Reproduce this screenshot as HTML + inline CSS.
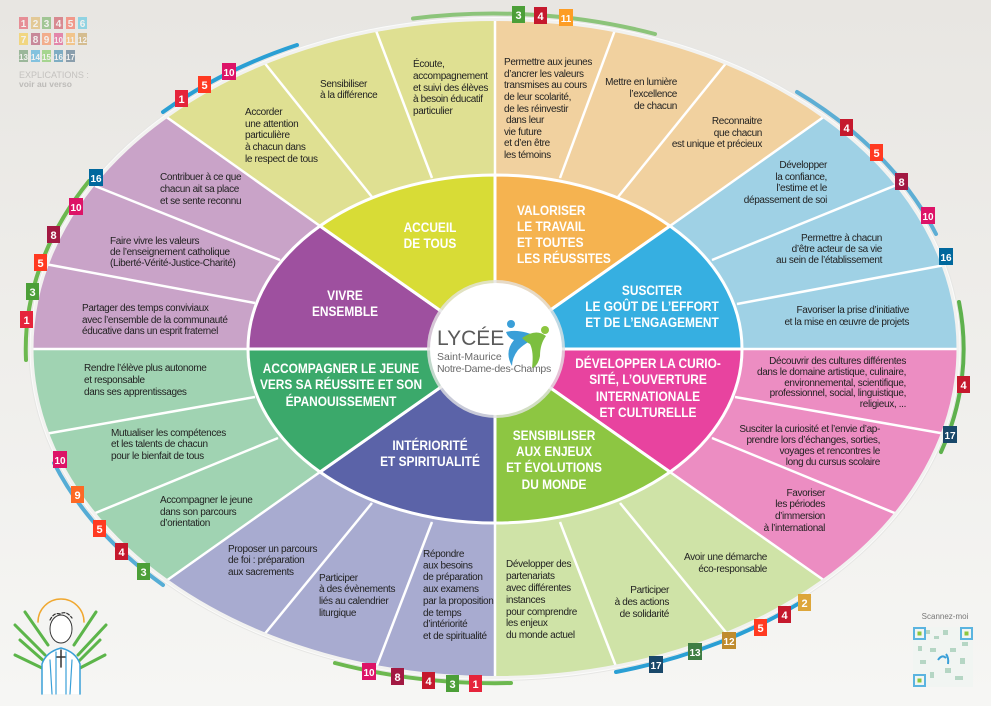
<!DOCTYPE html>
<html><head><meta charset="utf-8">
<style>
html,body{margin:0;padding:0;width:991px;height:706px;overflow:hidden;position:relative}
svg{display:block;position:absolute;left:0;top:0;overflow:hidden}
.t{font-family:"Liberation Sans",sans-serif;font-size:10px;fill:#222;letter-spacing:-0.35px}
.h{font-family:"Liberation Sans",sans-serif;font-size:14px;font-weight:bold;fill:#fff;text-anchor:middle}
.b{font-family:"Liberation Sans",sans-serif;font-size:11px;font-weight:bold;fill:#fff;text-anchor:middle}
</style></head><body>
<svg width="991" height="706" viewBox="0 0 991 706" xmlns="http://www.w3.org/2000/svg">
<defs>
<linearGradient id="bg" x1="0" y1="0" x2="0" y2="1"><stop offset="0" stop-color="#e8e6e2"/><stop offset="1" stop-color="#f6f6f4"/></linearGradient>
<clipPath id="oc"><ellipse cx="495" cy="348.5" rx="463" ry="329"/></clipPath>
<clipPath id="pg"><rect width="991" height="706"/></clipPath>
</defs>
<g clip-path="url(#pg)">
<rect width="991" height="706" fill="url(#bg)"/>

<g opacity="0.45" font-family="Liberation Sans" font-size="10" font-weight="bold" fill="#fff" text-anchor="middle">
<rect x="19" y="17" width="9" height="12" fill="#e5243b"/><rect x="31" y="17" width="9" height="12" fill="#dda63a"/><rect x="42" y="17" width="9" height="12" fill="#4c9f38"/><rect x="54" y="17" width="9" height="12" fill="#c5192d"/><rect x="66" y="17" width="9" height="12" fill="#ff3a21"/><rect x="78" y="17" width="9" height="12" fill="#26bde2"/>
<rect x="19" y="33" width="9" height="12" fill="#fcc30b"/><rect x="31" y="33" width="9" height="12" fill="#a21942"/><rect x="42" y="33" width="9" height="12" fill="#fd6925"/><rect x="54" y="33" width="9" height="12" fill="#dd1367"/><rect x="66" y="33" width="9" height="12" fill="#fd9d24"/><rect x="78" y="33" width="9" height="12" fill="#bf8b2e"/>
<rect x="19" y="50" width="9" height="12" fill="#3f7e44"/><rect x="31" y="50" width="9" height="12" fill="#0a97d9"/><rect x="42" y="50" width="9" height="12" fill="#56c02b"/><rect x="54" y="50" width="9" height="12" fill="#00689d"/><rect x="66" y="50" width="9" height="12" fill="#19486a"/>
<text x="23.5" y="27">1</text><text x="35.5" y="27">2</text><text x="46.5" y="27">3</text><text x="58.5" y="27">4</text><text x="70.5" y="27">5</text><text x="82.5" y="27">6</text>
<text x="23.5" y="43">7</text><text x="35.5" y="43">8</text><text x="46.5" y="43">9</text><text x="58.5" y="43" font-size="8">10</text><text x="70.5" y="43" font-size="8">11</text><text x="82.5" y="43" font-size="8">12</text>
<text x="23.5" y="60" font-size="8">13</text><text x="35.5" y="60" font-size="8">14</text><text x="46.5" y="60" font-size="8">15</text><text x="58.5" y="60" font-size="8">16</text><text x="70.5" y="60" font-size="8">17</text>
</g>
<text x="19" y="78" font-family="Liberation Sans" font-size="9" fill="#c4c2bf">EXPLICATIONS :</text>
<text x="19" y="87" font-family="Liberation Sans" font-size="8.5" font-weight="bold" fill="#bdbbb8">voir au verso</text>

<ellipse cx="495" cy="348.5" rx="466" ry="332" fill="#fbfbfa" stroke="#e6e6e4" stroke-width="1"/>

<g clip-path="url(#oc)" stroke="none">
<polygon fill="#f1d19f" points="495,349 495,175 495,-293 726,-275 560,178"/>
<polygon fill="#f1d19f" points="495,349 560,178 726,-275 939,-205 618,197"/>
<polygon fill="#f1d19f" points="495,349 618,197 939,-205 1129,-101 670,226"/>
<polygon fill="#9fd1e5" points="495,349 670,226 1129,-101 1267,35 712,260"/>
<polygon fill="#9fd1e5" points="495,349 712,260 1267,35 1346,190 737,304"/>
<polygon fill="#9fd1e5" points="495,349 737,304 1346,190 1390,349 742,349"/>
<polygon fill="#ec8dc2" points="495,349 742,349 1390,349 1356,505 735,397"/>
<polygon fill="#ec8dc2" points="495,349 735,397 1356,505 1261,663 712,438"/>
<polygon fill="#ec8dc2" points="495,349 712,438 1261,663 1129,796 670,472"/>
<polygon fill="#cfe3a7" points="495,349 670,472 1129,796 941,893 620,503"/>
<polygon fill="#cfe3a7" points="495,349 620,503 941,893 725,951 560,522"/>
<polygon fill="#cfe3a7" points="495,349 560,522 725,951 495,988 495,523"/>
<polygon fill="#a8abd0" points="495,349 495,523 495,988 267,951 432,522"/>
<polygon fill="#a8abd0" points="495,349 432,522 267,951 51,893 372,503"/>
<polygon fill="#a8abd0" points="495,349 372,503 51,893 -136,796 320,472"/>
<polygon fill="#a0d3b2" points="495,349 320,472 -136,796 -271,663 278,438"/>
<polygon fill="#a0d3b2" points="495,349 278,438 -271,663 -366,505 255,397"/>
<polygon fill="#a0d3b2" points="495,349 255,397 -366,505 -400,349 248,349"/>
<polygon fill="#c9a3c8" points="495,349 248,349 -400,349 -366,189 255,303"/>
<polygon fill="#c9a3c8" points="495,349 255,303 -366,189 -269,41 280,260"/>
<polygon fill="#c9a3c8" points="495,349 280,260 -269,41 -139,-101 320,226"/>
<polygon fill="#dfe092" points="495,349 320,226 -139,-101 51,-205 372,197"/>
<polygon fill="#dfe092" points="495,349 372,197 51,-205 264,-275 432,178"/>
<polygon fill="#dfe092" points="495,349 432,178 264,-275 495,-293 495,175"/>
</g>
<g stroke="#fff" stroke-width="2.5" clip-path="url(#oc)">
<line x1="495" y1="175" x2="495" y2="15"/><line x1="560" y1="178" x2="615" y2="30"/><line x1="618" y1="197" x2="727" y2="62"/><line x1="670" y1="226" x2="825" y2="116"/>
<line x1="712" y1="260" x2="899" y2="184"/><line x1="737" y1="304" x2="945" y2="265"/><line x1="742" y1="349" x2="962" y2="349"/><line x1="735" y1="397" x2="946" y2="434"/>
<line x1="712" y1="438" x2="897" y2="514"/><line x1="670" y1="472" x2="825" y2="581"/><line x1="620" y1="503" x2="729" y2="636"/><line x1="560" y1="522" x2="617" y2="669"/>
<line x1="495" y1="523" x2="495" y2="682"/><line x1="432" y1="522" x2="376" y2="668"/><line x1="372" y1="503" x2="263" y2="636"/><line x1="320" y1="472" x2="166" y2="581"/>
<line x1="278" y1="438" x2="93" y2="514"/><line x1="255" y1="397" x2="45" y2="434"/><line x1="248" y1="349" x2="28" y2="349"/><line x1="255" y1="303" x2="45" y2="264"/>
<line x1="280" y1="260" x2="95" y2="186"/><line x1="320" y1="226" x2="165" y2="116"/><line x1="372" y1="197" x2="263" y2="61"/><line x1="432" y1="178" x2="375" y2="28"/>
</g>
<ellipse cx="495" cy="348.5" rx="463" ry="329" fill="none" stroke="#f2f2f0" stroke-width="3"/>

<g fill="none" stroke-width="4" stroke-linecap="round">
<path d="M163,112 A469,335 0 0 1 297,45" stroke="#2a9fd4"/>
<path d="M413,18.5 A469,335 0 0 1 655,34" stroke="#8cc47a"/>
<path d="M797,92 A469,335 0 0 1 936,234" stroke="#3a9fd0" opacity="0.8"/>
<path d="M959,302 A469,335 0 0 1 941,452" stroke="#5eb14d"/>
<path d="M809,597 A469,335 0 0 1 616,672" stroke="#2a9fd4"/>
<path d="M511,683 A469,335 0 0 1 335,663" stroke="#6cb84f"/>
<path d="M163,585 A469,335 0 0 1 54,463" stroke="#3aa0d0" opacity="0.85"/>
<path d="M26,360 A469,335 0 0 1 89,181" stroke="#6cb84f"/>
</g>

<g stroke="#fff" stroke-width="3" stroke-linejoin="round">
<path d="M495,349 L495,175 A247,174 0 0 1 670,226 Z" fill="#f5b350"/>
<path d="M495,349 L670,226 A247,174 0 0 1 742,349 Z" fill="#36afe1"/>
<path d="M495,349 L742,349 A247,174 0 0 1 670,472 Z" fill="#e8439f"/>
<path d="M495,349 L670,472 A247,174 0 0 1 495,523 Z" fill="#8dc642"/>
<path d="M495,349 L495,523 A247,174 0 0 1 320,472 Z" fill="#5b63a8"/>
<path d="M495,349 L320,472 A247,174 0 0 1 248,349 Z" fill="#3ba96b"/>
<path d="M495,349 L248,349 A247,174 0 0 1 320,226 Z" fill="#9e509f"/>
<path d="M495,349 L320,226 A247,174 0 0 1 495,175 Z" fill="#d8dc36"/>
</g>

<circle cx="496" cy="349" r="69" fill="#e4e4e4" opacity="0.8"/>
<circle cx="496" cy="349" r="66" fill="#fff"/>
<text x="437" y="345" font-family="Liberation Sans" font-size="21" fill="#5a5a5a">LYCÉE</text>
<text x="437" y="360" font-family="Liberation Sans" font-size="10.5" fill="#6a6a6a">Saint-Maurice</text>
<text x="437" y="372" font-family="Liberation Sans" font-size="10.5" fill="#6a6a6a" letter-spacing="-0.3">Notre-Dame-des-Champs</text>
<circle cx="511" cy="324" r="4" fill="#3a9fd8"/><circle cx="545" cy="330" r="4" fill="#8cc63f"/>
<path d="M506,332 Q520,328 540,338 Q528,340 518,350 Q512,358 512,366 Q504,352 514,340 Q508,338 506,332Z" fill="#3a9fd8"/>
<path d="M522,338 Q536,328 546,336 Q540,344 540,356 Q538,366 532,368 Q534,352 530,344 Q526,342 522,338Z" fill="#7cbf3f"/>

<g class="h">
<text transform="translate(430,232) scale(0.85,1)">ACCUEIL</text>
<text transform="translate(430,248) scale(0.85,1)">DE TOUS</text>
<text transform="translate(517,215) scale(0.85,1)" text-anchor="start">VALORISER</text>
<text transform="translate(517,231) scale(0.85,1)" text-anchor="start">LE TRAVAIL</text>
<text transform="translate(517,247) scale(0.85,1)" text-anchor="start">ET TOUTES</text>
<text transform="translate(517,263) scale(0.85,1)" text-anchor="start">LES RÉUSSITES</text>
<text transform="translate(652,295) scale(0.85,1)">SUSCITER</text>
<text transform="translate(652,311) scale(0.85,1)">LE GOÛT DE L’EFFORT</text>
<text transform="translate(652,327) scale(0.85,1)">ET DE L’ENGAGEMENT</text>
<text transform="translate(648,368) scale(0.85,1)">DÉVELOPPER LA CURIO-</text>
<text transform="translate(648,384) scale(0.85,1)">SITÉ, L’OUVERTURE</text>
<text transform="translate(648,401) scale(0.85,1)">INTERNATIONALE</text>
<text transform="translate(648,417) scale(0.85,1)">ET CULTURELLE</text>
<text transform="translate(554,440) scale(0.85,1)">SENSIBILISER</text>
<text transform="translate(554,456) scale(0.85,1)">AUX ENJEUX</text>
<text transform="translate(554,472) scale(0.85,1)">ET ÉVOLUTIONS</text>
<text transform="translate(554,489) scale(0.85,1)">DU MONDE</text>
<text transform="translate(430,450) scale(0.85,1)">INTÉRIORITÉ</text>
<text transform="translate(430,466) scale(0.85,1)">ET SPIRITUALITÉ</text>
<text transform="translate(341,373) scale(0.85,1)">ACCOMPAGNER LE JEUNE</text>
<text transform="translate(341,389) scale(0.85,1)">VERS SA RÉUSSITE ET SON</text>
<text transform="translate(341,406) scale(0.85,1)">ÉPANOUISSEMENT</text>
<text transform="translate(345,300) scale(0.85,1)">VIVRE</text>
<text transform="translate(345,316) scale(0.85,1)">ENSEMBLE</text>
</g>

<g class="t">
<text><tspan x="413" y="67">Écoute,</tspan><tspan x="413" y="79">accompagnement</tspan><tspan x="413" y="91">et suivi des élèves</tspan><tspan x="413" y="102">à besoin éducatif</tspan><tspan x="413" y="114">particulier</tspan></text>
<text><tspan x="320" y="87">Sensibiliser</tspan><tspan x="320" y="98">à la différence</tspan></text>
<text><tspan x="245" y="115">Accorder</tspan><tspan x="245" y="127">une attention</tspan><tspan x="245" y="138">particulière</tspan><tspan x="245" y="150">à chacun dans</tspan><tspan x="245" y="162">le respect de tous</tspan></text>
<text><tspan x="160" y="180">Contribuer à ce que</tspan><tspan x="160" y="192">chacun ait sa place</tspan><tspan x="160" y="204">et se sente reconnu</tspan></text>
<text><tspan x="110" y="244">Faire vivre les valeurs</tspan><tspan x="110" y="255">de l’enseignement catholique</tspan><tspan x="110" y="266">(Liberté-Vérité-Justice-Charité)</tspan></text>
<text><tspan x="82" y="311">Partager des temps conviviaux</tspan><tspan x="82" y="323">avec l’ensemble de la communauté</tspan><tspan x="82" y="334">éducative dans un esprit fraternel</tspan></text>
<text><tspan x="84" y="371">Rendre l’élève plus autonome</tspan><tspan x="84" y="383">et responsable</tspan><tspan x="84" y="395">dans ses apprentissages</tspan></text>
<text><tspan x="111" y="436">Mutualiser les compétences</tspan><tspan x="111" y="447">et les talents de chacun</tspan><tspan x="111" y="459">pour le bienfait de tous</tspan></text>
<text><tspan x="160" y="503">Accompagner le jeune</tspan><tspan x="160" y="515">dans son parcours</tspan><tspan x="160" y="526">d’orientation</tspan></text>
<text><tspan x="228" y="552">Proposer un parcours</tspan><tspan x="228" y="563">de foi : préparation</tspan><tspan x="228" y="575">aux sacrements</tspan></text>
<text><tspan x="319" y="581">Participer</tspan><tspan x="319" y="592">à des évènements</tspan><tspan x="319" y="604">liés au calendrier</tspan><tspan x="319" y="616">liturgique</tspan></text>
<text><tspan x="423" y="557">Répondre</tspan><tspan x="423" y="568.5">aux besoins</tspan><tspan x="423" y="580">de préparation</tspan><tspan x="423" y="592">aux examens</tspan><tspan x="423" y="604">par la proposition</tspan><tspan x="423" y="616">de temps</tspan><tspan x="423" y="627">d’intériorité</tspan><tspan x="423" y="639">et de spiritualité</tspan></text>
<text><tspan x="506" y="567">Développer des</tspan><tspan x="506" y="579">partenariats</tspan><tspan x="506" y="591">avec différentes</tspan><tspan x="506" y="603">instances</tspan><tspan x="506" y="615">pour comprendre</tspan><tspan x="506" y="626">les enjeux</tspan><tspan x="506" y="638">du monde actuel</tspan></text>
<g text-anchor="end">
<text><tspan x="669" y="593">Participer</tspan><tspan x="669" y="605">à des actions</tspan><tspan x="669" y="617">de solidarité</tspan></text>
<text><tspan x="767" y="560">Avoir une démarche</tspan><tspan x="767" y="572">éco-responsable</tspan></text>
<text><tspan x="906" y="364">Découvrir des cultures différentes</tspan><tspan x="906" y="375">dans le domaine artistique, culinaire,</tspan><tspan x="906" y="386">environnemental, scientifique,</tspan><tspan x="906" y="396">professionnel, social, linguistique,</tspan><tspan x="906" y="407">religieux, ...</tspan></text>
<text><tspan x="880" y="432">Susciter la curiosité et l’envie d’ap-</tspan><tspan x="880" y="443">prendre lors d’échanges, sorties,</tspan><tspan x="880" y="454">voyages et rencontres le</tspan><tspan x="880" y="465">long du cursus scolaire</tspan></text>
<text><tspan x="825" y="496">Favoriser</tspan><tspan x="825" y="507">les périodes</tspan><tspan x="825" y="519">d’immersion</tspan><tspan x="825" y="531">à l’international</tspan></text>
<text><tspan x="827" y="168">Développer</tspan><tspan x="827" y="180">la confiance,</tspan><tspan x="827" y="191">l’estime et le</tspan><tspan x="827" y="203">dépassement de soi</tspan></text>
<text><tspan x="882" y="241">Permettre à chacun</tspan><tspan x="882" y="252">d’être acteur de sa vie</tspan><tspan x="882" y="263">au sein de l’établissement</tspan></text>
<text><tspan x="909" y="313">Favoriser la prise d’initiative</tspan><tspan x="909" y="325">et la mise en œuvre de projets</tspan></text>
<text><tspan x="677" y="85">Mettre en lumière</tspan><tspan x="677" y="97">l’excellence</tspan><tspan x="677" y="109">de chacun</tspan></text>
<text><tspan x="762" y="124">Reconnaitre</tspan><tspan x="762" y="136">que chacun</tspan><tspan x="762" y="147">est unique et précieux</tspan></text>
</g>
<text><tspan x="504" y="65">Permettre aux jeunes</tspan><tspan x="504" y="77">d’ancrer les valeurs</tspan><tspan x="504" y="88">transmises au cours</tspan><tspan x="504" y="100">de leur scolarité,</tspan><tspan x="504" y="112">de les réinvestir</tspan><tspan x="506" y="123">dans leur</tspan><tspan x="504" y="135">vie future</tspan><tspan x="504" y="146">et d’en être</tspan><tspan x="504" y="158">les témoins</tspan></text>
</g>

<g class="b">
<rect x="512" y="6" width="13" height="17" fill="#4c9f38"/><text x="518.5" y="19">3</text>
<rect x="534" y="7" width="13" height="17" fill="#c5192d"/><text x="540.5" y="20">4</text>
<rect x="559" y="9" width="14" height="17" fill="#fd9d24"/><text x="566" y="22" font-size="10">11</text>
<rect x="175" y="90" width="13" height="17" fill="#e5243b"/><text x="181.5" y="103">1</text>
<rect x="198" y="76" width="13" height="17" fill="#ff3a21"/><text x="204.5" y="89">5</text>
<rect x="222" y="63" width="14" height="17" fill="#dd1367"/><text x="229" y="76" font-size="10">10</text>
<rect x="89" y="169" width="14" height="17" fill="#00689d"/><text x="96" y="182" font-size="10">16</text>
<rect x="69" y="198" width="14" height="17" fill="#dd1367"/><text x="76" y="211" font-size="10">10</text>
<rect x="47" y="226" width="13" height="17" fill="#a21942"/><text x="53.5" y="239">8</text>
<rect x="34" y="254" width="13" height="17" fill="#ff3a21"/><text x="40.5" y="267">5</text>
<rect x="26" y="283" width="13" height="17" fill="#4c9f38"/><text x="32.5" y="296">3</text>
<rect x="20" y="311" width="13" height="17" fill="#e5243b"/><text x="26.5" y="324">1</text>
<rect x="53" y="451" width="14" height="17" fill="#dd1367"/><text x="60" y="464" font-size="10">10</text>
<rect x="71" y="486" width="13" height="17" fill="#fd6925"/><text x="77.5" y="499">9</text>
<rect x="93" y="520" width="13" height="17" fill="#ff3a21"/><text x="99.5" y="533">5</text>
<rect x="115" y="543" width="13" height="17" fill="#c5192d"/><text x="121.5" y="556">4</text>
<rect x="137" y="563" width="13" height="17" fill="#4c9f38"/><text x="143.5" y="576">3</text>
<rect x="362" y="663" width="14" height="17" fill="#dd1367"/><text x="369" y="676" font-size="10">10</text>
<rect x="391" y="668" width="13" height="17" fill="#a21942"/><text x="397.5" y="681">8</text>
<rect x="422" y="672" width="13" height="17" fill="#c5192d"/><text x="428.5" y="685">4</text>
<rect x="446" y="675" width="13" height="17" fill="#4c9f38"/><text x="452.5" y="688">3</text>
<rect x="469" y="675" width="13" height="17" fill="#e5243b"/><text x="475.5" y="688">1</text>
<rect x="649" y="656" width="14" height="17" fill="#19486a"/><text x="656" y="669" font-size="10">17</text>
<rect x="688" y="643" width="14" height="17" fill="#3f7e44"/><text x="695" y="656" font-size="10">13</text>
<rect x="722" y="632" width="14" height="17" fill="#bf8b2e"/><text x="729" y="645" font-size="10">12</text>
<rect x="754" y="619" width="13" height="17" fill="#ff3a21"/><text x="760.5" y="632">5</text>
<rect x="778" y="606" width="13" height="17" fill="#c5192d"/><text x="784.5" y="619">4</text>
<rect x="798" y="594" width="13" height="17" fill="#dda63a"/><text x="804.5" y="607">2</text>
<rect x="957" y="376" width="13" height="17" fill="#c5192d"/><text x="963.5" y="389">4</text>
<rect x="943" y="426" width="14" height="17" fill="#19486a"/><text x="950" y="439" font-size="10">17</text>
<rect x="840" y="119" width="13" height="17" fill="#c5192d"/><text x="846.5" y="132">4</text>
<rect x="870" y="144" width="13" height="17" fill="#ff3a21"/><text x="876.5" y="157">5</text>
<rect x="895" y="173" width="13" height="17" fill="#a21942"/><text x="901.5" y="186">8</text>
<rect x="921" y="207" width="14" height="17" fill="#dd1367"/><text x="928" y="220" font-size="10">10</text>
<rect x="939" y="248" width="14" height="17" fill="#00689d"/><text x="946" y="261" font-size="10">16</text>
</g>

<g fill="none" stroke-linecap="round">
<path d="M38,622 A22,22 0 0 1 84,622" stroke="#f0a830" stroke-width="1.5"/>
<g stroke="#5cb54a" stroke-width="3">
<path d="M15,625 L45,655"/><path d="M20,640 L45,662"/><path d="M25,612 L48,645"/><path d="M15,655 L42,668"/>
<path d="M106,625 L78,655"/><path d="M100,640 L78,662"/><path d="M96,612 L74,645"/><path d="M105,655 L80,668"/>
</g>
<ellipse cx="61" cy="629" rx="11" ry="14" stroke="#333" stroke-width="1" fill="#fff"/>
<path d="M50,620 q4,-8 10,-6 q6,-4 12,4" stroke="#333" stroke-width="1.2" stroke-dasharray="3,2"/>
<path d="M42,694 L42,664 Q46,652 61,648 Q76,652 80,664 L80,694" stroke="#3aa0d8" stroke-width="1.5" fill="#fff"/>
<path d="M50,660 L52,694 M56,652 L56,694 M66,652 L66,694 M72,660 L70,694" stroke="#3aa0d8" stroke-width="1.2"/>
<path d="M61,650 L61,667 M57,657 L65,657" stroke="#333" stroke-width="1.5"/>
</g>

<text x="945" y="619" font-family="Liberation Sans" font-size="8" fill="#777" text-anchor="middle">Scannez-moi</text>
<rect x="913" y="627" width="60" height="60" fill="#f1f5f2"/>
<g fill="#b5d6c4"><rect x="926" y="630" width="4" height="4"/><rect x="934" y="636" width="5" height="3"/><rect x="930" y="648" width="6" height="4"/><rect x="918" y="646" width="4" height="5"/><rect x="943" y="630" width="5" height="5"/><rect x="950" y="648" width="6" height="4"/><rect x="960" y="658" width="5" height="6"/><rect x="945" y="668" width="6" height="5"/><rect x="930" y="672" width="4" height="6"/><rect x="955" y="676" width="8" height="4"/><rect x="962" y="642" width="6" height="4"/><rect x="920" y="660" width="6" height="4"/></g>
<rect x="914" y="628" width="11" height="11" fill="none" stroke="#5ab4e0" stroke-width="2"/><rect x="917.5" y="631.5" width="4" height="4" fill="#8cc63f"/>
<rect x="961" y="628" width="11" height="11" fill="none" stroke="#5ab4e0" stroke-width="2"/><rect x="964.5" y="631.5" width="4" height="4" fill="#8cc63f"/>
<rect x="914" y="675" width="11" height="11" fill="none" stroke="#5ab4e0" stroke-width="2"/><rect x="917.5" y="678.5" width="4" height="4" fill="#8cc63f"/>
<path d="M938,660 q4,-6 8,-2 M946,654 q3,4 2,10" stroke="#3a9fd8" stroke-width="2" fill="none"/>
</g>
</svg>
</body></html>
